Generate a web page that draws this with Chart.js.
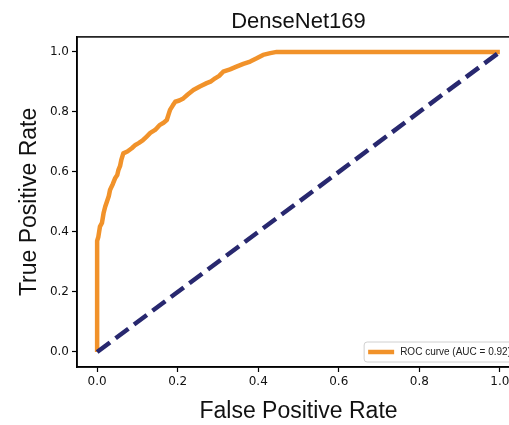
<!DOCTYPE html>
<html>
<head>
<meta charset="utf-8">
<script src="https://cdn.jsdelivr.net/npm/chart.js@4/dist/chart.umd.min.js"></script>
<style>
  html, body { margin: 0; padding: 0; background: #fff; overflow: hidden; }
  #wrap { width: 509px; height: 425px; overflow: hidden; }
</style>
</head>
<body>
<div id="wrap"><canvas id="roc" width="530" height="425"></canvas></div>
<script>
// ROC curve points
const rocFpr = [0, 0, 0.003, 0.007, 0.012, 0.016, 0.02, 0.024, 0.029, 0.032, 0.039, 0.045, 0.05, 0.053, 0.057, 0.06, 0.065, 0.075, 0.086, 0.095, 0.103, 0.113, 0.123, 0.132, 0.144, 0.156, 0.165, 0.173, 0.177, 0.181, 0.188, 0.194, 0.204, 0.214, 0.225, 0.239, 0.255, 0.272, 0.283, 0.293, 0.303, 0.313, 0.33, 0.346, 0.363, 0.38, 0.395, 0.412, 0.43, 0.446, 1.0];
const rocTpr = [0, 0.37, 0.384, 0.418, 0.43, 0.463, 0.484, 0.50, 0.52, 0.54, 0.56, 0.58, 0.59, 0.607, 0.62, 0.64, 0.662, 0.668, 0.679, 0.69, 0.696, 0.705, 0.718, 0.73, 0.74, 0.757, 0.764, 0.773, 0.79, 0.807, 0.822, 0.834, 0.838, 0.845, 0.858, 0.873, 0.885, 0.896, 0.902, 0.912, 0.92, 0.934, 0.942, 0.951, 0.96, 0.968, 0.978, 0.99, 0.996, 1.0, 1.0];
const chanceX = [0, 1];
const chanceY = [0, 1];
const tickValues = [0, 0.2, 0.4, 0.6, 0.8, 1.0];

const rocLabel = 'ROC curve (AUC = 0.92)';

// Frame around the plot area (matplotlib style box)
const framePlugin = {
    id: 'frame',
    afterDraw(chart) {
        const { ctx, chartArea: a } = chart;
        ctx.save();
        ctx.strokeStyle = '#000';
        ctx.lineWidth = 1.5;
        ctx.strokeRect(a.left, a.top, a.right - a.left, a.bottom - a.top);
        ctx.restore();
    }
};

// Legend box in the lower right corner inside the axes
const cornerLegend = {
    id: 'cornerLegend',
    afterDraw(chart) {
        const { ctx, chartArea: a } = chart;
        const ds = chart.data.datasets.find(d => d.label);
        ctx.save();
        ctx.font = '10px "Liberation Sans", Arial, sans-serif';
        const tw = ctx.measureText(ds.label).width;
        const w = tw + 40, h = 20;
        const x = a.right - 5 - w, y = a.bottom - 5 - h;
        ctx.beginPath();
        ctx.roundRect(x, y, w, h, 3);
        ctx.fillStyle = 'rgba(255,255,255,0.85)';
        ctx.fill();
        ctx.strokeStyle = '#d0d0d0';
        ctx.lineWidth = 1;
        ctx.stroke();
        ctx.strokeStyle = ds.borderColor;
        ctx.lineWidth = 4.5;
        ctx.beginPath();
        ctx.moveTo(x + 4, y + h / 2);
        ctx.lineTo(x + 30, y + h / 2);
        ctx.stroke();
        ctx.fillStyle = '#222';
        ctx.textBaseline = 'middle';
        ctx.fillText(ds.label, x + 36, y + h / 2 + 0.5);
        ctx.restore();
    }
};

const tickFont = { family: '"DejaVu Sans", sans-serif', size: 12 };
const labelFont = { family: '"Liberation Sans", Arial, sans-serif', size: 23 };

new Chart(document.getElementById('roc').getContext('2d'), {
    type: 'scatter',
    data: {
        datasets: [
            {
                data: chanceX.map((x, i) => ({ x: x, y: chanceY[i] })),
                showLine: true,
                borderColor: '#28286f',
                borderWidth: 4.5,
                borderDash: [16, 7],
                pointRadius: 0,
                order: 0
            },
            {
                label: rocLabel,
                data: rocFpr.map((x, i) => ({ x: x, y: rocTpr[i] })),
                showLine: true,
                borderColor: '#f1922a',
                borderWidth: 4.5,
                borderJoinStyle: 'round',
                pointRadius: 0,
                tension: 0,
                order: 1
            }
        ]
    },
    options: {
        responsive: false,
        animation: false,
        layout: { padding: { left: 0, right: 10, top: 0, bottom: 0 } },
        plugins: {
            legend: { display: false },
            tooltip: { enabled: false },
            title: {
                display: true,
                fullSize: false,
                text: 'DenseNet169',
                color: '#111',
                font: { family: '"Liberation Sans", Arial, sans-serif', size: 22, weight: 'normal' },
                padding: { top: 9, bottom: 1.5 }
            }
        },
        scales: {
            x: {
                type: 'linear',
                min: -0.05,
                max: 1.05,
                afterBuildTicks: (s) => { s.ticks = tickValues.map(v => ({ value: v })); },
                afterFit: (s) => { s.height = 58; },
                ticks: {
                    color: '#111',
                    font: tickFont,
                    padding: 3,
                    maxRotation: 0,
                    callback: (v) => v.toFixed(1)
                },
                grid: { drawOnChartArea: false, tickLength: 5, color: '#000', tickWidth: 1.2 },
                border: { color: '#000', width: 1.5 },
                title: { display: true, text: 'False Positive Rate', color: '#111', font: labelFont, padding: { top: 0, bottom: 0 } }
            },
            y: {
                type: 'linear',
                min: -0.05,
                max: 1.05,
                afterBuildTicks: (s) => { s.ticks = tickValues.map(v => ({ value: v })); },
                afterFit: (s) => { s.width = 77; },
                ticks: {
                    color: '#111',
                    font: tickFont,
                    padding: 3,
                    callback: (v) => v.toFixed(1)
                },
                grid: { drawOnChartArea: false, tickLength: 5, color: '#000', tickWidth: 1.2 },
                border: { color: '#000', width: 1.5 },
                title: { display: true, text: 'True Positive Rate', color: '#111', font: labelFont, padding: { top: 16, bottom: 0 } }
            }
        }
    },
    plugins: [framePlugin, cornerLegend]
});
</script>
</body>
</html>
